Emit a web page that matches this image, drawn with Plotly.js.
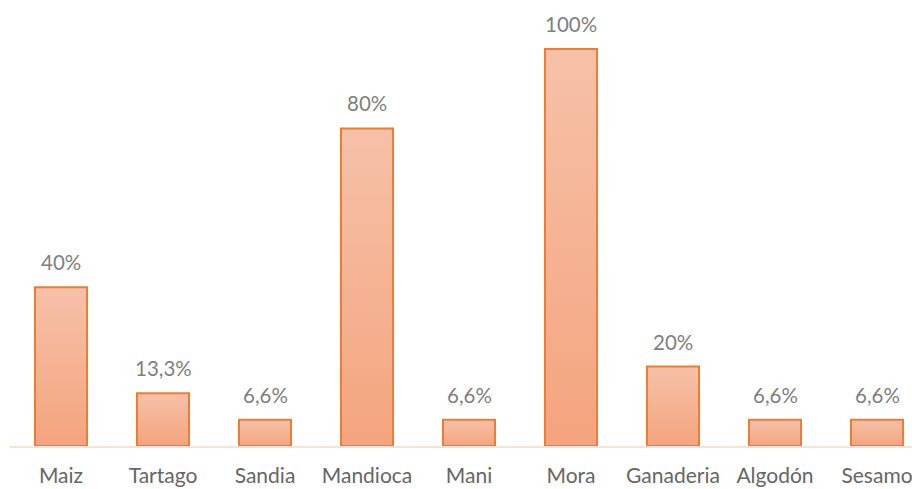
<!DOCTYPE html>
<html><head><meta charset="utf-8">
<script src="https://cdn.plot.ly/plotly-3.0.1.min.js"></script>
<style>html,body{margin:0;padding:0;background:#fff;}#chart{width:912px;height:489px;}</style>
</head><body><div id="chart"></div>
<script>
const categories = ["Maiz","Tartago","Sandia","Mandioca","Mani","Mora","Ganaderia","Algodón","Sesamo"];
const values = [40, 13.3, 6.6, 80, 6.6, 100, 20, 6.6, 6.6];
const valueLabels = ["40%","13,3%","6,6%","80%","6,6%","100%","20%","6,6%","6,6%"];

const FONT = "Lato, 'Open Sans', sans-serif";
const trace = {
  type: 'bar', x: categories, y: values, width: 0.51,
  marker: {color: '#F5B08F', line: {color: '#ED7D31', width: 2}},
  hoverinfo: 'none'
};
const annotations = categories.map((c, i) => ({
  x: c, y: values[i], text: valueLabels[i], showarrow: false,
  yanchor: 'bottom', yshift: 11, font: {family: FONT, size: 20.5, color: '#7F7F7F'}
}));
const layout = {
  width: 912, height: 489, margin: {l: 10, r: 0, t: 0, b: 43},
  paper_bgcolor: '#fff', plot_bgcolor: '#fff', showlegend: false,
  xaxis: {type: 'category', range: [-0.5, 8.343], showline: true, linecolor: '#FBE1CF', linewidth: 1.5,
          ticks: '', showgrid: false, zeroline: false, ticklabelstandoff: 10,
          tickfont: {family: FONT, size: 21, color: '#666666'}},
  yaxis: {range: [0, 112.34], visible: false, showgrid: false, zeroline: false},
  annotations: annotations
};
Plotly.newPlot('chart', [trace], layout, {displayModeBar: false, staticPlot: true}).then(gd => {
  const svg = gd.querySelector('svg.main-svg');
  const ns = 'http://www.w3.org/2000/svg';
  let defs = svg.querySelector('defs');
  const lg = document.createElementNS(ns, 'linearGradient');
  lg.setAttribute('id', 'barGrad'); lg.setAttribute('x1', '0'); lg.setAttribute('y1', '0');
  lg.setAttribute('x2', '0'); lg.setAttribute('y2', '1');
  [['0', '#F6C1A8'], ['1', '#F4A47E']].forEach(([o, c]) => {
    const s = document.createElementNS(ns, 'stop'); s.setAttribute('offset', o); s.setAttribute('stop-color', c); lg.appendChild(s);
  });
  defs.appendChild(lg);
  gd.querySelectorAll('.bars .point path').forEach(p => { p.style.fill = 'url(#barGrad)'; p.style.fillOpacity = 1; });
});
</script></body></html>
